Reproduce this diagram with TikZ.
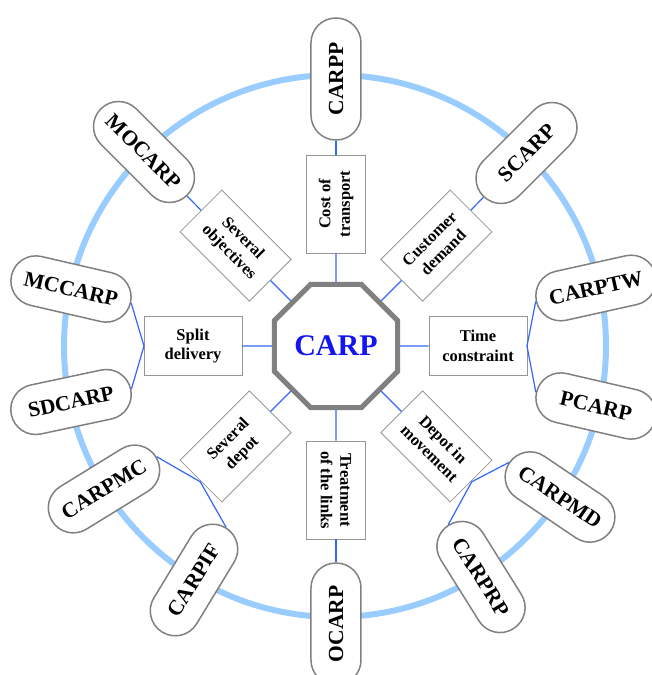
\documentclass[tikz,border=0pt]{standalone}
\usepackage{fontspec}
\setmainfont{Liberation Serif}
\usetikzlibrary{shapes.geometric}

\definecolor{ringblue}{RGB}{153,204,255}
\definecolor{linkblue}{RGB}{51,102,255}
\definecolor{edgegray}{RGB}{128,128,128}
\definecolor{boxgray}{RGB}{150,150,150}
\definecolor{carpblue}{RGB}{20,20,240}

\tikzset{
  hub/.style={regular polygon, regular polygon sides=8, minimum size=133.2pt,
    inner sep=0pt, draw=edgegray, line width=5pt, fill=white,
    font=\fontsize{30}{36}\selectfont\bfseries, text=carpblue},
  topic/.style={draw=boxgray, line width=0.8pt, fill=white,
    minimum width=98pt, minimum height=59pt, inner sep=0pt, align=center,
    font=\fontsize{16.5}{19.5}\selectfont\bfseries},
  variant/.style={draw=edgegray, line width=1.5pt, fill=white,
    rounded corners=24.9pt, minimum width=122pt, minimum height=50pt,
    inner sep=0pt, font=\fontsize{21.5}{24}\selectfont\bfseries},
  link/.style={draw=linkblue, line width=1.2pt},
  ring/.style={draw=ringblue, line width=6pt}
}

\begin{document}
\begin{tikzpicture}[x=1pt, y=1pt]
  \useasboundingbox (-336,-329) rectangle (316,346);

  % outer ring
  \draw[ring] (-1,0) circle (271);

  % central problem
  \node[hub] (carp) at (0,0) {CARP};

  % extension criteria
  \node[topic, rotate=90]  (cost)  at (90:142)  {Cost of\\transport};
  \node[topic, rotate=45]  (dem)   at (45:142)  {Customer\\demand};
  \node[topic]             (time)  at (0:142)   {Time\\constraint};
  \node[topic, rotate=-45] (mov)   at (-45:142) {Depot in\\movement};
  \node[topic, rotate=-90] (links) at (-90:144) {Treatment\\of the links};
  \node[topic, rotate=45]  (sev)   at (225:142) {Several\\depot};
  \node[topic]             (split) at (180:143) {Split\\delivery};
  \node[topic, rotate=-45] (obj)   at (135:142) {Several\\objectives};

  % branching points on the outer side of the criteria
  \coordinate (jtime)  at (0:191);
  \coordinate (jsplit) at (180:192);
  \coordinate (jsev)   at (225:192);
  \coordinate (jmov)   at (-45:192);

  % problem variants
  \node[variant, rotate=90]   (carpp)  at (0,267)       {CARPP};
  \node[variant, rotate=90]   (ocarp)  at (0,-278)      {OCARP};
  \node[variant, rotate=45]   (scarp)  at (190.5,193)   {SCARP};
  \node[variant, rotate=-45]  (mocarp) at (-192,194)    {MOCARP};
  \node[variant, rotate=-13]  (mccarp) at (-265,57)     {MCCARP};
  \node[variant, rotate=12]   (sdcarp) at (-265,-56)    {SDCARP};
  \node[variant, rotate=12.5] (carptw) at (260,58)      {CARPTW};
  \node[variant, rotate=-13]  (pcarp)  at (260,-60)     {PCARP};
  \node[variant, rotate=31.6] (carpmc) at (-232,-143)   {CARPMC};
  \node[variant, rotate=58.7] (carpif) at (-142,-234)   {CARPIF};
  \node[variant, rotate=-34]  (carpmd) at (224,-151)    {CARPMD};
  \node[variant, rotate=-58]  (carprp) at (145,-231)    {CARPRP};

  % hub to criteria
  \foreach \t in {cost,dem,time,mov,links,sev,split,obj}
    \draw[link] (carp) -- (\t);

  % criteria to single variants
  \draw[link] (cost) -- (carpp);
  \draw[link] (dem) -- (scarp);
  \draw[link] (obj) -- (mocarp);
  \draw[link] (links) -- (ocarp);

  % criteria to pairs of variants
  \draw[link] (time) -- (jtime);
  \draw[link] (carptw.west) -- (jtime) -- (pcarp.west);
  \draw[link] (mccarp.east) -- (jsplit) -- (sdcarp.east);
  \draw[link] (carpmc.east) -- (jsev) -- (carpif.east);
  \draw[link] (carpmd.west) -- (jmov) -- (carprp.west);
\end{tikzpicture}
\end{document}
